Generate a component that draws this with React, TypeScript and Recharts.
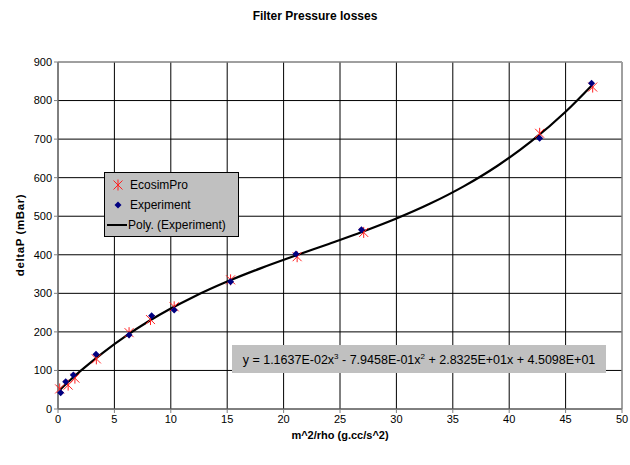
import React from "react";
import {
  ComposedChart,
  Scatter,
  Line,
  XAxis,
  YAxis,
  CartesianGrid,
  ReferenceLine
} from "recharts";

const xTicks = [0, 5, 10, 15, 20, 25, 30, 35, 40, 45, 50];
const yTicks = [0, 100, 200, 300, 400, 500, 600, 700, 800, 900];

const experimentX = [0.24, 0.68, 1.36, 3.37, 6.3, 8.3, 10.3, 15.3, 21.1, 26.9, 42.7, 47.3];
const experimentY = [42, 71, 88, 142, 192, 242, 257, 330, 402, 465, 702, 845];

const ecosimX = [0.15, 0.9, 1.5, 3.4, 6.3, 8.2, 10.3, 15.3, 21.2, 27.1, 42.7, 47.4];
const ecosimY = [52, 62, 80, 130, 198, 232, 265, 335, 395, 458, 715, 835];

const polyX = [0.2, 1, 2, 4, 6, 8, 10, 12, 15, 18, 21, 24, 27, 30, 33, 36, 39, 42, 45, 47.3];
const polyY = [50.7, 72.6, 98.7, 146.4, 189, 226.8, 260.5, 290.7, 330.5, 365.4, 397.3, 428.1, 459.7, 493.9, 532.7, 578, 631.5, 695.3, 771.1, 838.6];

const experiment = experimentX.map((x, i) => ({ x, y: experimentY[i] }));
const ecosim = ecosimX.map((x, i) => ({ x, y: ecosimY[i] }));
const poly = polyX.map((x, i) => ({ x, y: polyY[i] }));

const font = "'Liberation Sans', Arial, sans-serif";

function StarMark(props: any) {
  const { cx, cy } = props;
  const r = 4.5;
  return (
    <g stroke="#ff2020" strokeWidth={1}>
      <line x1={cx - r} y1={cy - r} x2={cx + r} y2={cy + r} />
      <line x1={cx - r} y1={cy + r} x2={cx + r} y2={cy - r} />
      <line x1={cx} y1={cy - r - 1} x2={cx} y2={cy + r + 1} />
    </g>
  );
}

function DiamondMark(props: any) {
  const { cx, cy } = props;
  const r = 3.5;
  return <path d={`M${cx},${cy - r}L${cx + r},${cy}L${cx},${cy + r}L${cx - r},${cy}Z`} fill="#000080" />;
}

function LegendBox() {
  const row = { display: "flex", alignItems: "center", height: 20 } as const;
  return (
    <div
      style={{
        position: "absolute",
        left: 104,
        top: 172,
        background: "#c0c0c0",
        border: "1px solid #000",
        width: 135,
        height: 65,
        fontFamily: font,
        fontSize: 12,
        color: "#000",
        boxSizing: "border-box",
        paddingTop: 2
      }}
    >
      <div style={row}>
        <svg width={22} height={20}>
          <StarMark cx={13} cy={10} />
        </svg>
        <span style={{ marginLeft: 3 }}>EcosimPro</span>
      </div>
      <div style={row}>
        <svg width={22} height={20}>
          <DiamondMark cx={13} cy={10} />
        </svg>
        <span style={{ marginLeft: 3 }}>Experiment</span>
      </div>
      <div style={row}>
        <svg width={22} height={20}>
          <line x1={2} y1={10} x2={22} y2={10} stroke="#000" strokeWidth={2} />
        </svg>
        <span style={{ marginLeft: 1 }}>Poly. (Experiment)</span>
      </div>
    </div>
  );
}

export default function App() {
  return (
    <div style={{ position: "absolute", left: 0, top: 0, width: 630, height: 465, background: "#fff", fontFamily: font }}>
      <div
        style={{
          position: "absolute",
          top: 9,
          left: 0,
          width: 630,
          textAlign: "center",
          fontWeight: "bold",
          fontSize: 12
        }}
      >
        Filter Pressure losses
      </div>
      <ComposedChart width={630} height={465} margin={{ top: 62, right: 8, bottom: 30, left: 18 }}>
        <CartesianGrid stroke="#000" strokeWidth={1} />
        <XAxis
          type="number"
          dataKey="x"
          domain={[0, 50]}
          ticks={xTicks}
          interval={0}
          tick={{ fill: "#000", fontSize: 11, fontFamily: font }}
          tickSize={4}
          tickLine={{ stroke: "#808080" }}
          axisLine={{ stroke: "#808080" }}
          height={26}
          label={{ value: "m^2/rho (g.cc/s^2)", position: "insideBottom", offset: -4, fill: "#000", fontWeight: "bold", fontSize: 11, fontFamily: font }}
        />
        <YAxis
          type="number"
          dataKey="y"
          domain={[0, 900]}
          ticks={yTicks}
          interval={0}
          width={40}
          tick={{ fill: "#000", fontSize: 11, fontFamily: font }}
          tickSize={4}
          tickLine={{ stroke: "#808080" }}
          axisLine={{ stroke: "#808080" }}
        />
        <ReferenceLine y={900} stroke="#c0c0c0" />
        <ReferenceLine x={50} stroke="#c0c0c0" />
        <Line
          data={poly}
          dataKey="y"
          type="monotone"
          stroke="#000"
          strokeWidth={2.2}
          dot={false}
          activeDot={false}
          isAnimationActive={false}
          name="Poly. (Experiment)"
        />
        <Scatter data={ecosim} dataKey="y" shape={<StarMark />} isAnimationActive={false} name="EcosimPro" />
        <Scatter data={experiment} dataKey="y" shape={<DiamondMark />} isAnimationActive={false} name="Experiment" />
      </ComposedChart>
      <svg width={30} height={200} style={{ position: "absolute", left: 8, top: 135 }}>
        <text
          x={0}
          y={0}
          transform="translate(16,100) rotate(-90)"
          textAnchor="middle"
          fontFamily={font}
          fontWeight="bold"
          fontSize={11.5}
          letterSpacing={0.6}
        >
          deltaP (mBar)
        </text>
      </svg>
      <LegendBox />
      <div
        style={{
          position: "absolute",
          left: 232,
          top: 345,
          width: 374,
          height: 28,
          background: "#c0c0c0",
          fontSize: 12.5,
          lineHeight: "30px",
          textAlign: "center",
          color: "#000",
          whiteSpace: "nowrap"
        }}
      >
        y = 1.1637E-02x<sup style={{ fontSize: 8, lineHeight: 0 }}>3</sup> - 7.9458E-01x<sup style={{ fontSize: 8, lineHeight: 0 }}>2</sup> + 2.8325E+01x + 4.5098E+01
      </div>
    </div>
  );
}
